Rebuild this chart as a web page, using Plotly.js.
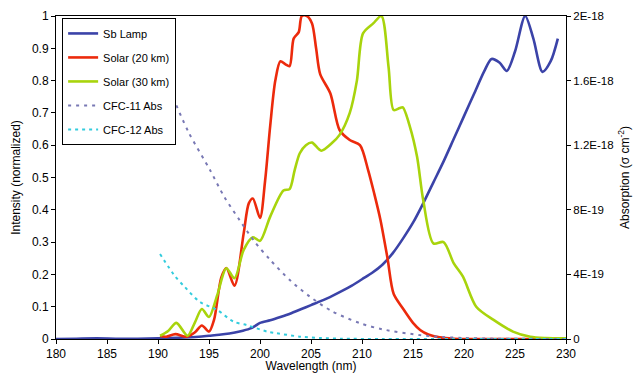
<!DOCTYPE html>
<html>
<head>
<meta charset="utf-8">
<script src="https://cdn.plot.ly/plotly-3.0.1.min.js"></script>
<style>html,body{margin:0;padding:0;background:#fff}#chart{width:635px;height:373px}</style>
</head>
<body>
<div id="chart"></div>
<script>
// ---- data ----
const sbX = [180,182,184,186,188,190,192,194,195,196,197,198,199,199.5,200,201,202,203,204,205,206,207,208,209,210,211,212,213,214,215,216,217,218,219,220,221,222,222.7,223.5,224.2,225,226,226.8,227.7,228.5,229.2];
const sbY = [0,0.001,0.002,0.001,0.001,0.002,0.004,0.007,0.01,0.013,0.017,0.023,0.032,0.04,0.05,0.058,0.068,0.079,0.092,0.105,0.118,0.132,0.148,0.165,0.185,0.205,0.23,0.265,0.31,0.36,0.42,0.485,0.55,0.62,0.69,0.76,0.83,0.867,0.855,0.83,0.89,1.0,0.93,0.827,0.86,0.93];

const s20X = [190.2,190.8,191.7,192.8,193.6,194.3,195.0,195.5,196.2,196.7,197.5,198.4,198.9,199.3,200.0,200.5,201.0,201.5,202.0,202.5,202.9,203.3,203.8,204.1,204.6,205.1,205.5,205.9,206.9,207.8,208.8,209.8,210.6,211.2,211.8,212.5,213.1,214.0,215.0,215.7,216.5,217.6,219,221,224,227,230];
const s20Y = [0.009,0.007,0.015,0.007,0.02,0.042,0.023,0.06,0.19,0.22,0.165,0.327,0.42,0.435,0.375,0.49,0.66,0.8,0.86,0.85,0.845,0.93,0.95,1.0,1.0,0.977,0.9,0.82,0.76,0.647,0.616,0.60,0.523,0.45,0.37,0.25,0.14,0.095,0.05,0.028,0.014,0.005,0.001,0,0,0,0];

const s30X = [190.2,191.0,191.8,192.9,193.6,194.3,195.0,195.8,196.7,197.5,198.4,199.3,200.0,201.0,202.3,202.9,203.4,203.9,204.5,205.1,206.0,207.0,207.8,208.8,209.5,210.1,211.1,211.9,212.6,213.1,213.7,214.0,214.7,215.4,216.0,217.0,218.0,219.0,219.9,221.2,222.9,224.8,226.5,228,230];
const s30Y = [0.01,0.025,0.05,0.01,0.05,0.093,0.068,0.135,0.219,0.188,0.276,0.315,0.304,0.379,0.46,0.464,0.523,0.575,0.6,0.608,0.583,0.605,0.632,0.70,0.80,0.946,0.977,1.0,0.843,0.709,0.715,0.717,0.657,0.564,0.43,0.296,0.30,0.234,0.193,0.10,0.059,0.023,0.007,0.003,0.002];

const cfc11X = [190,191.3,193,195.1,196.5,198,199.5,201,203,204.9,207,209.8,212,215.7,218,220,223,226,230];
const cfc11Y = [1.72e-18,1.52e-18,1.28e-18,1.046e-18,8.8e-19,7.36e-19,6.0e-19,4.9e-19,3.6e-19,2.62e-19,1.74e-19,9.8e-20,6.0e-20,2.4e-20,1.2e-20,6e-21,2e-21,1e-21,0];

const cfc12X = [190.2,191.7,192.6,194.1,195.8,197.4,198.7,200.7,201.6,204,206,208,212,220,230];
const cfc12Y = [5.26e-19,3.86e-19,3.24e-19,2.3e-19,1.8e-19,1.08e-19,8.6e-20,4.6e-20,3.6e-20,1.4e-20,6e-21,2e-21,0,0,0];

const rightTickVals = [0,4e-19,8e-19,1.2e-18,1.6e-18,2e-18];
const rightTickText = ["0","4E-19","8E-19","1.2E-18","1.6E-18","2E-18"];

const FONT = "Liberation Sans, Arial, sans-serif";

const traces = [
  {x: sbX, y: sbY, name: "Sb Lamp", mode: "lines", legendgroup: "a",
   line: {color: "#3b43a8", width: 2.6, shape: "spline", smoothing: 0.8}},
  {x: s20X, y: s20Y, name: "Solar (20 km)", mode: "lines", legendgroup: "b",
   line: {color: "#ec2a0c", width: 2.6, shape: "spline", smoothing: 0.8}},
  {x: s30X, y: s30Y, name: "Solar (30 km)", mode: "lines", legendgroup: "c",
   line: {color: "#a8d40c", width: 2.6, shape: "spline", smoothing: 0.8}},
  {x: cfc11X, y: cfc11Y, name: "CFC-11 Abs", mode: "lines", yaxis: "y2", legendgroup: "d",
   line: {color: "#7878b4", width: 2, dash: "3px,5px", shape: "spline", smoothing: 0.8}},
  {x: cfc12X, y: cfc12Y, name: "CFC-12 Abs", mode: "lines", yaxis: "y2", legendgroup: "e",
   line: {color: "#33ccdd", width: 2, dash: "3px,4px", shape: "spline", smoothing: 0.8}}
];

const layout = {
  width: 635, height: 373,
  margin: {l: 56, r: 69, t: 16, b: 34, pad: 0},
  paper_bgcolor: "#fff", plot_bgcolor: "#fff",
  font: {family: FONT, size: 12, color: "#000"},
  showlegend: true,
  legend: {x: 0.012, y: 0.994, xanchor: "left", yanchor: "top",
    bgcolor: "#fff", bordercolor: "#000", borderwidth: 1,
    font: {family: FONT, size: 11, color: "#000"},
    traceorder: "grouped", tracegroupgap: 5, itemwidth: 30},
  xaxis: {range: [180, 230], dtick: 5, tick0: 180, showgrid: false, zeroline: false,
    showline: true, linecolor: "#000", linewidth: 1, mirror: true,
    ticks: "outside", ticklen: 4, tickcolor: "#000",
    tickfont: {family: FONT, size: 12},
    title: {text: "Wavelength (nm)", font: {family: FONT, size: 12}, standoff: 10}},
  yaxis: {range: [0, 1], dtick: 0.1, showgrid: false, zeroline: false,
    showline: true, linecolor: "#000", linewidth: 1,
    ticks: "outside", ticklen: 4, tickcolor: "#000",
    tickfont: {family: FONT, size: 12},
    title: {text: "Intensity (normalized)", font: {family: FONT, size: 12}, standoff: 8}},
  yaxis2: {range: [0, 2e-18], overlaying: "y", side: "right", showgrid: false, zeroline: false,
    showline: true, linecolor: "#000", linewidth: 1,
    ticks: "outside", ticklen: 4, tickcolor: "#000",
    tickvals: rightTickVals, ticktext: rightTickText,
    tickfont: {family: FONT, size: 11.5},
    title: {text: "Absorption (σ cm<sup>-2</sup>)", font: {family: FONT, size: 12}, standoff: 8}}
};

Plotly.newPlot("chart", traces, layout, {displayModeBar: false, staticPlot: true});
</script>
</body>
</html>
